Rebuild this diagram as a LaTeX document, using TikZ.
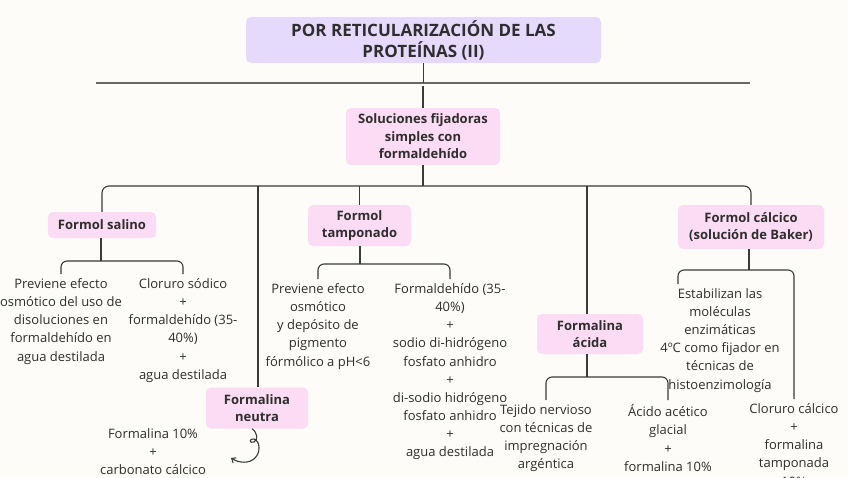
\documentclass[tikz,border=0pt]{standalone}
\usepackage{fontspec}
\setmainfont{Open Sans}
\usetikzlibrary{positioning,arrows.meta,calc}
\definecolor{paper}{HTML}{FDFCF8}
\definecolor{lila}{HTML}{E6DAFC}
\definecolor{rosa}{HTML}{FCDCF4}
\definecolor{ink}{HTML}{2E2E2E}
\definecolor{wire}{HTML}{3A3A3A}
\tikzset{
  box/.style  ={rounded corners=5pt, align=center, text=ink, inner sep=2pt,
                font=\fontsize{13}{17.5}\selectfont\bfseries},
  head/.style ={box, fill=lila, font=\fontsize{17}{21}\selectfont\bfseries},
  rama/.style ={box, fill=rosa},
  txt/.style  ={align=center, text=ink, inner xsep=1.5pt, inner ysep=4.5pt, anchor=north,
                font=\fontsize{13}{18.1}\selectfont},
  conn/.style ={draw=wire, line width=1.1pt},
  sep/.style  ={draw=black!60, line width=1.8pt},
  curl/.style ={conn, -{Straight Barb[length=3.5pt, width=6pt]}},
}

\begin{document}
\begin{tikzpicture}[x=1pt, y=-1pt]
  \fill[paper] (0,0) rectangle (848,477);
  \useasboundingbox (0,0) rectangle (848,477);

  % title and separator
  \node[head, minimum width=355, minimum height=46] (title) at (423.5,40)
        {POR RETICULARIZACIÓN DE LAS\\PROTEÍNAS (II)};
  \coordinate (sepL) at (96,83);
  \coordinate (sepR) at (750,83);
  \draw[sep] (sepL) -- (sepR);
  \node[rama, minimum width=154, minimum height=57] (sol) at (423,136.5)
        {Soluciones fijadoras\\simples con\\formaldehído};
  \draw[conn] (title.south) -- (title.south |- sepL);
  \draw[conn] (sol.north |- 0,86) -- (sol.north);

  % first level
  \node[rama, minimum width=108, minimum height=26] (salino) at (102,225) {Formol salino};
  \node[rama, minimum width=102, minimum height=41] (neutra) at (257,408) {Formalina\\neutra};
  \node[rama, minimum width=103, minimum height=41] (tampon) at (359.5,225.5) {Formol\\tamponado};
  \node[rama, minimum width=106, minimum height=40] (acida) at (590,334) {Formalina\\ácida};
  \node[rama, minimum width=146, minimum height=44] (calcico) at (751,227) {Formol cálcico\\(solución de Baker)};

  \coordinate (hub) at (423,186);
  \draw[conn] (sol.south) -- (hub);
  \draw[conn, rounded corners=7pt] (salino.north) |- (hub) -| (calcico.north);
  \draw[conn] (neutra.north -| 258,0) -- (258,186);
  \draw[conn] (tampon.north) -- (tampon.north |- hub);
  \draw[conn] (acida.north -| 587,0) -- (587,186);

  % formol salino
  \node[txt] (salinoA) at (61,274)
        {Previene efecto\\osmótico del uso de\\disoluciones en\\formaldehído en\\agua destilada};
  \node[txt] (salinoB) at (183,274)
        {Cloruro sódico\\+\\formaldehído (35-\\40\%)\\+\\agua destilada};
  \coordinate (salinoJ) at (101,261);
  \draw[conn] (salino.south -| salinoJ) -- (salinoJ);
  \draw[conn, rounded corners=6pt] (salinoA.north) |- (salinoJ) -| (salinoB.north);

  % formol tamponado
  \node[txt] (tamponA) at (318,279)
        {Previene efecto\\osmótico\\y depósito de\\pigmento\\fórmólico a pH<6};
  \node[txt] (tamponB) at (450,279)
        {Formaldehído (35-\\40\%)\\+\\sodio di-hidrógeno\\fosfato anhidro\\+\\di-sodio hidrógeno\\fosfato anhidro\\+\\agua destilada};
  \coordinate (tamponJ) at (360,264);
  \draw[conn] (tampon.south -| tamponJ) -- (tamponJ);
  \draw[conn, rounded corners=6pt] (tamponA.north) |- (tamponJ) -| (tamponB.north);

  % formalina neutra
  \node[txt] (neutraA) at (153,424) {Formalina 10\%\\+\\carbonato cálcico};
  \coordinate (neutraC) at (231,458);
  \draw[curl] (neutra.south -| 252,0) .. controls (258,433) and (258,440) .. (254,442)
        .. controls (249,444) and (249,438) .. (254,439)
        .. controls (260,441) and (261,452) .. (255,458)
        .. controls (249,464) and (239,463) .. (neutraC);

  % formalina acida
  \node[txt] (acidaA) at (546,400)
        {Tejido nervioso\\con técnicas de\\impregnación\\argéntica};
  \node[txt] (acidaB) at (668,400)
        {Ácido acético\\glacial\\+\\formalina 10\%};
  \coordinate (acidaJ) at (587,377);
  \draw[conn] (acida.south -| acidaJ) -- (acidaJ);
  \draw[conn, rounded corners=6pt] (acidaA.north) |- (acidaJ) -| (acidaB.north);

  % formol calcico
  \node[txt] (calcicoA) at (720,284)
        {Estabilizan las\\moléculas\\enzimáticas\\4ºC como fijador en\\técnicas de\\histoenzimología};
  \node[txt] (calcicoB) at (794,399)
        {Cloruro cálcico\\+\\formalina\\tamponada\\10\%};
  \coordinate (calcicoJ) at (749,270);
  \draw[conn] (calcico.south -| calcicoJ) -- (calcicoJ);
  \draw[conn, rounded corners=6pt] ($(calcicoA.north)+(-42,0)$) |- (calcicoJ) -| (calcicoB.north);
\end{tikzpicture}
\end{document}
